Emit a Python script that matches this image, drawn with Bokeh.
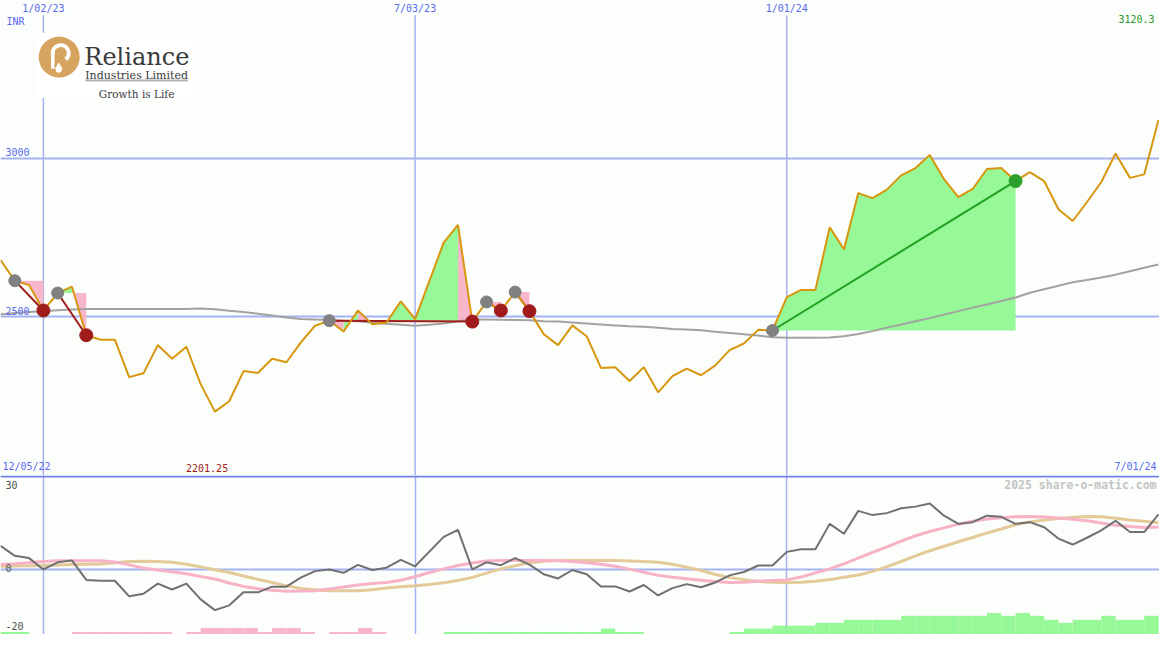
from bokeh.plotting import figure
from bokeh.layouts import column
from bokeh.models import Range1d, Span, FixedTicker
from bokeh.core.properties import value
from bokeh.embed import file_html
from bokeh.resources import INLINE

# ---------------- data (weekly, index 0 = 12/12/22 ... 81 = 7/01/24) ----------------
price = [2679, 2614, 2600, 2520, 2575, 2595, 2442, 2428, 2428, 2310,
         2322, 2411, 2368, 2406, 2288, 2201.25, 2234, 2329, 2323, 2368,
         2357, 2419, 2472, 2488, 2454, 2520, 2477, 2482, 2549, 2493,
         2613, 2734, 2790, 2485, 2547, 2520, 2578, 2518, 2445, 2411,
         2473, 2439, 2339, 2341, 2298, 2341, 2262, 2313, 2337, 2316,
         2347, 2395, 2416, 2459, 2457, 2562, 2585, 2585, 2782, 2713,
         2890, 2874, 2901, 2946, 2969, 3010, 2934, 2877, 2903, 2966,
         2969, 2928, 2956, 2928, 2839, 2802, 2862, 2925, 3015, 2938,
         2949, 3120.3]

moving_avg = [2508, 2512, 2515, 2518, 2521, 2523, 2525, 2525, 2525, 2525,
              2525, 2525, 2525, 2525, 2526, 2524, 2519, 2515, 2510, 2504,
              2498, 2493, 2492, 2490, 2488, 2486, 2481, 2478, 2475, 2472,
              2475, 2479, 2486, 2492, 2492, 2491, 2490, 2489, 2486, 2485,
              2482, 2479, 2476, 2473, 2470, 2469, 2466, 2462, 2460, 2458,
              2453, 2449, 2445, 2441, 2436, 2434, 2434, 2434, 2435, 2439,
              2446, 2455, 2466, 2476, 2486, 2496, 2507, 2518, 2529, 2539,
              2550, 2561, 2576, 2587, 2598, 2609, 2616, 2624, 2633, 2644,
              2655, 2665]

momentum = [8.3, 4.8, 4.0, 0.0, 2.5, 3.2, -3.7, -4.0, -4.0, -9.5,
            -8.6, -5.0, -7.1, -5.0, -10.6, -14.4, -12.7, -8.1, -8.1, -6.1,
            -6.1, -2.9, -0.6, 0.0, -1.2, 1.6, -0.2, 0.6, 3.4, 1.1,
            6.3, 11.5, 14.0, 0.0, 2.5, 1.5, 4.0, 1.7, -1.7, -3.2,
            -0.2, -1.7, -6.0, -6.0, -7.8, -5.5, -9.2, -6.6, -5.2, -6.3,
            -4.6, -2.1, -0.9, 1.4, 1.4, 6.2, 7.1, 7.1, 16.1, 12.6,
            20.7, 19.2, 19.9, 21.6, 22.2, 23.3, 19.0, 16.1, 16.7, 19.0,
            18.6, 16.1, 16.7, 14.9, 10.9, 8.8, 11.2, 13.8, 17.2, 13.2,
            13.2, 19.5]

fast_line = [1.7, 2.0, 2.4, 2.8, 3.1, 3.1, 3.1, 3.1, 2.6, 1.6,
             0.5, -0.2, -0.8, -1.5, -2.5, -3.4, -4.8, -6.0, -6.8, -7.4,
             -7.7, -7.6, -7.5, -6.9, -6.2, -5.5, -5.0, -4.6, -3.8, -2.6,
             -1.1, 0.2, 1.4, 2.3, 3.0, 3.2, 3.2, 3.2, 3.2, 3.1,
             2.8, 2.4, 1.8, 1.1, 0.1, -1.0, -2.1, -2.8, -3.3, -3.8,
             -4.3, -4.6, -4.5, -4.2, -3.9, -3.7, -2.7, -1.2, 0.2, 2.0,
             4.0, 6.0, 8.0, 10.0, 11.9, 13.4, 14.7, 16.0, 17.0, 17.8,
             18.3, 18.6, 18.7, 18.5, 18.2, 17.7, 17.2, 16.4, 15.6, 15.2,
             14.8, 15.0]

slow_line = [1.1, 1.2, 1.3, 1.4, 1.6, 1.7, 1.8, 1.9, 2.4, 2.8,
             2.9, 2.8, 2.5, 1.8, 0.9, -0.1, -1.1, -2.3, -3.5, -4.6,
             -5.8, -6.7, -7.2, -7.5, -7.5, -7.5, -7.2, -6.6, -6.1, -5.8,
             -5.3, -4.7, -3.9, -2.8, -1.3, 0.2, 1.3, 2.4, 2.9, 3.2,
             3.2, 3.2, 3.2, 3.2, 3.0, 2.8, 2.5, 1.8, 0.8, -0.4,
             -1.8, -2.9, -3.6, -4.3, -4.5, -4.6, -4.5, -4.2, -3.6, -2.8,
             -2.0, -0.7, 1.0, 2.8, 4.8, 6.6, 8.2, 9.8, 11.3, 12.9,
             14.3, 15.8, 16.8, 17.5, 18.0, 18.4, 18.7, 18.6, 18.1, 17.5,
             17.0, 16.5]

histogram = [0.9, 0.9, 0, 0, 0, -0.9, -0.9, -0.9, -0.9, -0.9,
             -0.9, -0.9, 0, -0.9, -2.3, -2.3, -2.3, -2.3, -0.9, -2.3,
             -2.3, -0.9, 0, -0.9, -0.9, -2.3, -0.9, 0, 0, 0,
             0, 0.9, 0.9, 0.9, 0.9, 0.9, 0.9, 0.9, 0.9, 0.9,
             0.9, 0.9, 2.1, 0.9, 0.9, 0, 0, 0, 0, 0,
             0, 0.9, 2.1, 2.1, 3.1, 3.1, 3.1, 4.1, 4.1, 5.2,
             5.2, 5.2, 5.2, 6.6, 6.6, 6.6, 6.6, 6.6, 6.6, 7.6,
             6.6, 7.6, 6.6, 5.2, 4.1, 5.2, 5.2, 6.6, 5.2, 5.2,
             6.6, 6.6]

# trades: entry / exit week index, result, per-segment shading (g = green, p = pink)
trade_entry = [1, 4, 23, 34, 36, 54]
trade_exit = [3, 6, 33, 35, 37, 71]
trade_win = [False, False, False, False, False, True]
trade_shade = ["pp", "gp", "pgpggggggp", "p", "p", "g" * 17]

tick_idx = [3, 29, 55]
tick_labels = ["1/02/23", "7/03/23", "1/01/24"]
first_label, last_label = "12/05/22", "7/01/24"
price_grid = [2500, 3000]

# ---------------- styling / layout ----------------
W = 1159
H_TOP = 475
H_BOT = 159
REF_W, REF_TOP, REF_BOT = 1175.0, 487.0, 163.0
XMIN, XMAX = 0.0, 81.07
P_BOT, P_TOP = 2000.0, 3497.0
M_BOT, M_TOP = -23.0, 33.2

BG = "#fbfefb"
GRID = "#a4b2f2"
SEP = "#7282ee"
BLUE_TXT = "#5a6af0"
GOLD = "#d8960e"
PINK = "#f8b6ca"
GREEN = "#96f896"
MONO = value("DejaVu Sans Mono")
SERIF = value("DejaVu Serif")

idx = list(range(len(price)))


def tx(px):
    return XMIN + px * (XMAX - XMIN) / REF_W


def ty(py):
    return P_TOP - py * (P_TOP - P_BOT) / REF_TOP


def by(py):
    return M_TOP - (py - REF_TOP) * (M_TOP - M_BOT) / REF_BOT


xr = Range1d(XMIN, XMAX)


def make_fig(h, yr):
    p = figure(width=W, height=h, x_range=xr, y_range=yr,
               output_backend="svg", toolbar_location=None,
               x_axis_location=None, y_axis_location=None,
               min_border=0, min_border_left=0, min_border_right=0,
               min_border_top=0, min_border_bottom=0,
               background_fill_color=BG, border_fill_color=BG,
               outline_line_color=None)
    p.xgrid.visible = False
    return p


# ================= top price panel =================
p1 = make_fig(H_TOP, Range1d(P_BOT, P_TOP))
p1.ygrid.ticker = FixedTicker(ticks=price_grid)
p1.ygrid.grid_line_color = GRID
p1.ygrid.grid_line_width = 2

# vertical date lines
p1.segment(x0=tick_idx, y0=[P_BOT] * 3, x1=tick_idx, y1=[ty(15)] * 3,
           line_color=GRID, line_width=1.5)

# trade shading between entry level and price
fxs, fys, fcol = [], [], []
for e, x, shade in zip(trade_entry, trade_exit, trade_shade):
    lvl = price[e]
    i = e
    while i < x:
        c = shade[i - e]
        j = i
        while j < x and shade[j - e] == c:
            j += 1
        xs = [i] + list(range(i, j + 1)) + [j]
        ys = [lvl] + [price[k] for k in range(i, j + 1)] + [lvl]
        fxs.append(xs)
        fys.append(ys)
        fcol.append(GREEN if c == "g" else PINK)
        i = j
p1.patches(fxs, fys, fill_color=fcol, line_color=None)

# moving average
p1.line(idx, moving_avg, line_color="#a2a2a2", line_width=2)

# entry -> exit lines
p1.segment(x0=trade_entry, y0=[price[e] for e in trade_entry],
           x1=trade_exit, y1=[price[x] for x in trade_exit],
           line_color=["#22a022" if w else "#a01c1c" for w in trade_win],
           line_width=2)

# price line
p1.line(idx, price, line_color=GOLD, line_width=2)

# markers
p1.scatter(trade_entry, [price[e] for e in trade_entry], size=12,
           fill_color="#808080", line_color="#808080")
exit_col = ["#2ca02c" if w else "#a01c1c" for w in trade_win]
p1.scatter(trade_exit, [price[x] for x in trade_exit], size=13,
           fill_color=exit_col, line_color=exit_col)

# price grid labels
p1.text(x=[tx(5)] * 2, y=[v + 2 * (P_TOP - P_BOT) / REF_TOP for v in price_grid],
        text=[str(v) for v in price_grid], text_font=MONO, text_font_size="10px",
        text_color=BLUE_TXT, text_baseline="bottom", text_align="left")

# date labels on top
p1.text(x=tick_idx, y=[ty(3)] * 3, text=tick_labels, text_font=MONO,
        text_font_size="10px", text_color=BLUE_TXT, text_baseline="top",
        text_align="center")
p1.text(x=[tx(6)], y=[ty(16)], text=["INR"], text_font=MONO, text_font_size="10px",
        text_color=BLUE_TXT, text_baseline="top", text_align="left")
p1.text(x=[tx(1170)], y=[ty(15)], text=["%.1f" % price[-1]], text_font=MONO,
        text_font_size="10px", text_color="#2a962a", text_baseline="top",
        text_align="right")

# bottom labels of price panel
p1.text(x=[tx(2)], y=[ty(483)], text=[first_label], text_font=MONO,
        text_font_size="10px", text_color=BLUE_TXT, text_baseline="bottom",
        text_align="left")
p1.text(x=[tx(1172)], y=[ty(483)], text=[last_label], text_font=MONO,
        text_font_size="10px", text_color=BLUE_TXT, text_baseline="bottom",
        text_align="right")
imin = price.index(min(price))
p1.text(x=[imin - 0.55], y=[ty(483)], text=["%.2f" % min(price)], text_font=MONO,
        text_font_size="10px", text_color="#a01c1c", text_baseline="bottom",
        text_align="center")

# logo
p1.quad(left=[tx(36)], right=[tx(195)], top=[ty(33)], bottom=[ty(100)],
        fill_color="#ffffff", line_color=None)
p1.scatter([tx(59.5)], [ty(58)], size=41, fill_color="#d6a45e", line_color=None)
p1.arc(x=[tx(61)], y=[ty(54)], radius=8, radius_units="screen",
       start_angle=-0.9, end_angle=3.3, line_color="#ffffff", line_width=4)
p1.segment(x0=[tx(53)], y0=[ty(53)], x1=[tx(53)], y1=[ty(70)],
           line_color="#ffffff", line_width=3.5)
p1.scatter([tx(59)], [ty(68)], size=8, marker="triangle", fill_color="#ffffff",
           line_color=None)
p1.scatter([tx(59)], [ty(71)], size=6, fill_color="#ffffff", line_color=None)
p1.text(x=[tx(85)], y=[ty(58)], text=["Reliance"], text_font=SERIF,
        text_font_size="24px", text_color="#3a3a3a", text_baseline="alphabetic",
        text_align="left")
p1.text(x=[tx(138)], y=[ty(77)], text=["Industries Limited"], text_font=SERIF,
        text_font_size="11px", text_color="#3a3a3a", text_baseline="alphabetic",
        text_align="center")
p1.segment(x0=[tx(86)], y0=[ty(82)], x1=[tx(190)], y1=[ty(82)],
           line_color="#b4b4b4", line_width=2)
p1.text(x=[tx(138)], y=[ty(96)], text=["Growth is Life"], text_font=SERIF,
        text_font_size="10.5px", text_color="#3a3a3a", text_baseline="alphabetic",
        text_align="center")

# ================= bottom oscillator panel =================
p2 = make_fig(H_BOT, Range1d(M_BOT, M_TOP))
p2.ygrid.ticker = FixedTicker(ticks=[0])
p2.ygrid.grid_line_color = GRID
p2.ygrid.grid_line_width = 2
p2.xgrid.visible = True
p2.xgrid.ticker = FixedTicker(ticks=tick_idx)
p2.xgrid.grid_line_color = GRID
p2.xgrid.grid_line_width = 1.5

hl, hr, ht, hc = [], [], [], []
for i, h in enumerate(histogram):
    if h != 0:
        hl.append(i)
        hr.append(i + 1)
        ht.append(M_BOT + abs(h))
        hc.append(GREEN if h > 0 else PINK)
p2.quad(left=hl, right=hr, bottom=[M_BOT] * len(hl), top=ht,
        fill_color=hc, line_color=None)

p2.line(idx, slow_line, line_color="#e4ca98", line_width=3)
p2.line(idx, fast_line, line_color="#f8b2c6", line_width=3)
p2.line(idx, momentum, line_color="#707070", line_width=2)

p2.add_layout(Span(location=M_TOP - 1.0 * (M_TOP - M_BOT) / REF_BOT,
                   dimension="width", line_color=SEP, line_width=2))

p2.text(x=[tx(1172)], y=[by(490)], text=["2025 share-o-matic.com"], text_font=MONO,
        text_font_size="11.5px", text_font_style="bold", text_color="#c4c4c4",
        text_baseline="top", text_align="right")
p2.text(x=[tx(5)] * 2, y=[30, -20], text=["30", "-20"], text_font=MONO,
        text_font_size="10px", text_color="#505050", text_baseline="middle",
        text_align="left")
p2.text(x=[tx(5)], y=[by(582)], text=["0"], text_font=MONO,
        text_font_size="10px", text_color="#505050", text_baseline="alphabetic",
        text_align="left")

layout = column(p1, p2, spacing=0)
open("out.html", "w").write(file_html(layout, INLINE))
